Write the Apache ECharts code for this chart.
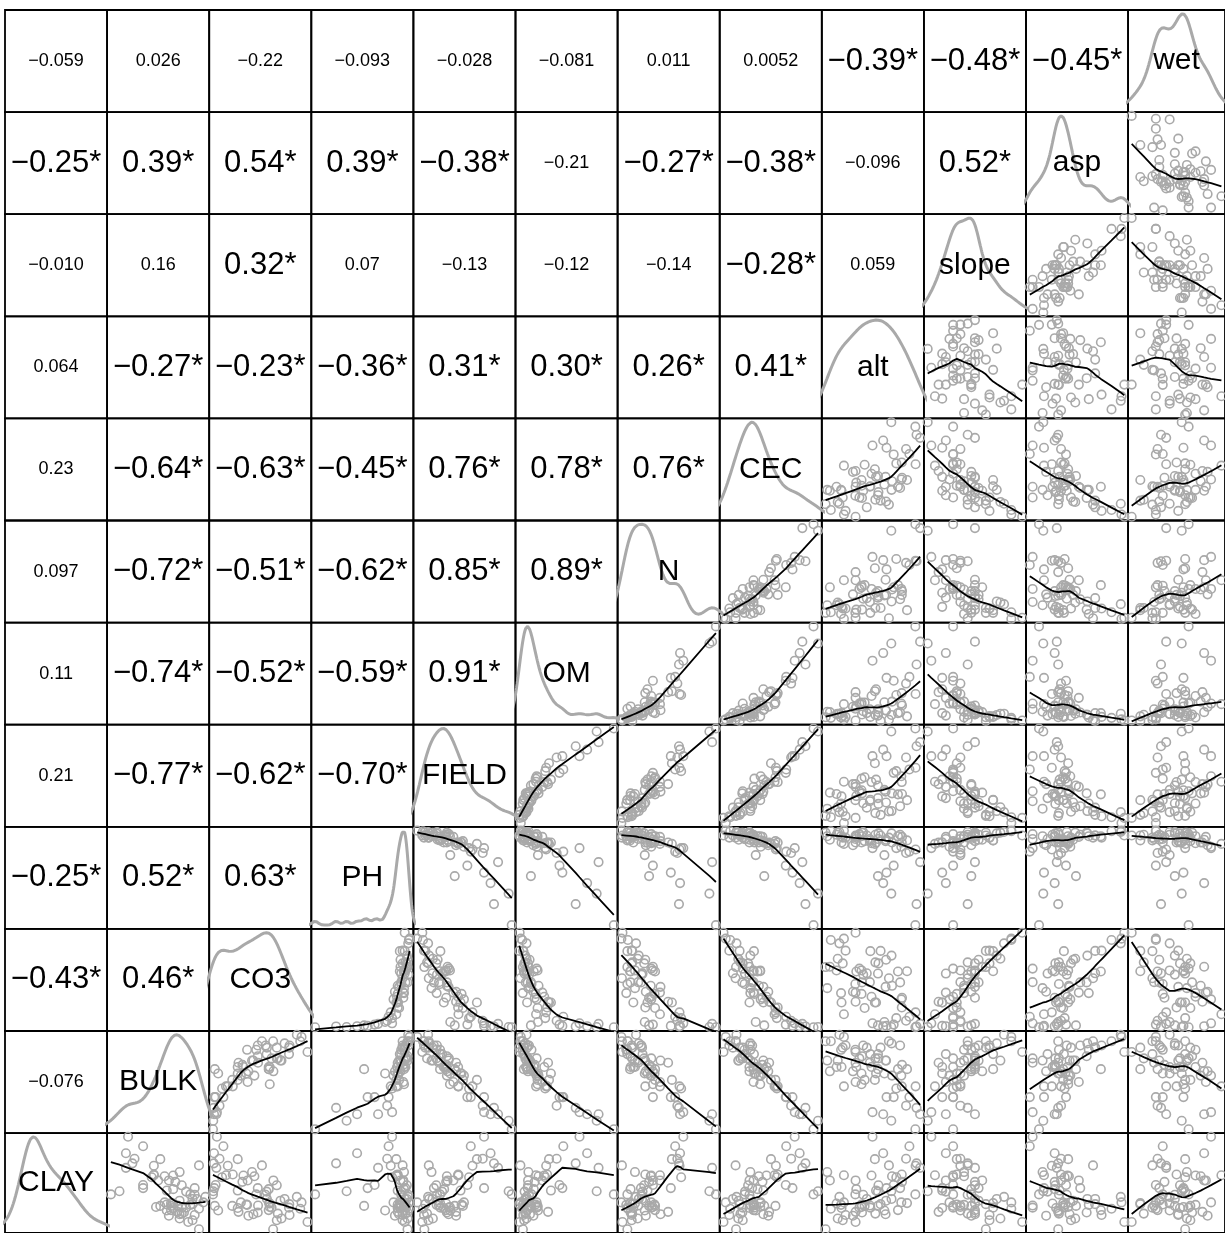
<!DOCTYPE html>
<html>
<head>
<meta charset="utf-8">
<title>Soil and terrain variables – scatterplot matrix</title>
<script src="https://cdn.jsdelivr.net/npm/echarts@6/dist/echarts.min.js"></script>
<style>
  html, body { margin: 0; padding: 0; background: #ffffff; }
  #chart { width: 1225px; height: 1233px; }
</style>
</head>
<body>
<div id="chart"></div>
<script>
// Variable names, in matrix order (columns left→right, rows bottom→top)
const varNames = ['CLAY', 'BULK', 'CO3', 'PH', 'FIELD', 'OM', 'N', 'CEC', 'alt', 'slope', 'asp', 'wet'];

// Observations (one value per sampling site)
const CLAY = [27.5, 21.0, 23.6, 35.0, 21.7, 20.8, 22.6, 31.3, 33.8, 21.3,
              33.2, 19.9, 21.1, 28.9, 24.9, 22.4, 24.2, 38.7, 19.7, 30.4,
              19.4, 21.6, 36.7, 23.1, 21.9, 17.0, 33.1, 26.4, 19.2, 41.4,
              24.9, 20.4, 14.9, 27.6, 25.7, 21.6, 32.5, 18.0, 30.3, 22.1,
              26.0, 28.9, 25.8, 26.7, 18.8, 23.6, 35.1, 21.1, 30.6, 17.5,
              20.3, 22.6, 29.8, 22.3, 30.1, 26.7, 24.8, 22.0, 28.5, 19.0];
const BULK = [1.42, 1.38, 1.49, 1.32, 1.40, 1.50, 1.34, 1.41, 1.19, 1.30,
              1.50, 1.40, 1.44, 1.31, 1.09, 1.37, 1.53, 1.24, 1.43, 1.29,
              1.42, 1.37, 1.16, 1.41, 1.46, 1.45, 1.29, 1.38, 1.41, 1.17,
              1.46, 1.37, 1.50, 1.24, 1.44, 1.32, 1.16, 1.41, 1.38, 1.47,
              1.35, 1.36, 1.13, 1.48, 1.36, 1.47, 1.20, 1.42, 1.29, 1.47,
              1.35, 1.52, 1.28, 1.38, 1.34, 1.24, 1.48, 1.35, 1.39, 1.48];
const CO3 = [25.0, 10.0, 28.0, 10.0, 17.8, 34.0, 11.2, 15.5, 0.8, 22.3,
             19.3, 10.3, 29.7, 13.8, 0.5, 22.0, 32.7, 4.5, 17.7, 5.5,
             25.4, 1.2, 0.9, 26.4, 13.6, 36.8, 6.2, 21.9, 16.0, 2.0,
             17.1, 21.9, 23.6, 1.5, 21.1, 7.9, 1.8, 26.8, 12.2, 29.8,
             10.0, 23.7, 0.6, 17.7, 14.1, 21.2, 3.0, 23.0, 8.1, 25.0,
             2.5, 34.5, 4.0, 22.3, 16.4, 1.0, 20.7, 13.3, 11.8, 29.9];
const PH = [8.16, 8.03, 8.16, 8.01, 8.08, 8.19, 7.97, 8.12, 7.15, 8.12,
            8.10, 8.03, 8.06, 8.11, 6.85, 8.06, 8.18, 7.90, 8.17, 8.01,
            8.14, 7.55, 7.45, 8.07, 8.12, 8.13, 7.93, 8.12, 8.05, 7.95,
            8.08, 8.12, 8.17, 7.70, 8.08, 8.05, 7.75, 8.17, 8.02, 8.13,
            8.03, 8.07, 7.30, 8.14, 7.99, 8.13, 7.88, 8.15, 8.03, 8.10,
            7.85, 8.20, 7.95, 8.14, 8.03, 7.60, 8.18, 8.03, 8.11, 8.10];
const FIELD = [25.5, 27.7, 23.4, 37.4, 26.3, 21.6, 33.6, 24.1, 42.4, 29.5,
               23.3, 31.3, 26.7, 30.5, 47.6, 26.6, 23.1, 35.6, 28.6, 32.0,
               22.8, 30.9, 41.4, 25.9, 25.6, 21.4, 36.1, 27.8, 29.1, 39.5,
               26.6, 28.3, 22.0, 34.6, 27.2, 33.3, 43.6, 24.5, 31.9, 22.3,
               32.6, 28.8, 46.7, 24.8, 31.3, 24.4, 39.1, 29.2, 31.9, 23.2,
               29.6, 19.9, 35.1, 28.4, 28.6, 39.5, 25.7, 32.9, 28.4, 21.9];
const OM = [1.10, 1.05, 0.95, 2.20, 1.25, 0.80, 1.55, 1.12, 3.60, 1.60,
            0.70, 2.15, 0.85, 1.85, 5.60, 0.88, 1.02, 2.95, 0.98, 1.52,
            0.96, 1.25, 4.20, 1.18, 0.82, 0.66, 2.05, 1.40, 1.20, 3.80,
            1.28, 1.05, 0.83, 2.75, 0.92, 1.60, 4.80, 1.02, 1.95, 0.64,
            2.30, 1.10, 4.70, 1.08, 1.38, 1.05, 2.60, 1.55, 2.10, 0.90,
            1.62, 0.72, 2.00, 0.99, 1.65, 2.90, 1.15, 1.50, 1.45, 0.85];
const N = [0.122, 0.102, 0.112, 0.173, 0.111, 0.092, 0.135, 0.105, 0.186, 0.138,
           0.081, 0.166, 0.091, 0.151, 0.254, 0.096, 0.107, 0.179, 0.097, 0.151,
           0.100, 0.131, 0.188, 0.124, 0.089, 0.082, 0.187, 0.097, 0.152, 0.194,
           0.091, 0.142, 0.091, 0.138, 0.119, 0.142, 0.247, 0.110, 0.135, 0.100,
           0.128, 0.138, 0.242, 0.116, 0.125, 0.118, 0.183, 0.135, 0.124, 0.099,
           0.123, 0.080, 0.190, 0.105, 0.134, 0.171, 0.117, 0.141, 0.131, 0.099];
const CEC = [15.8, 16.1, 16.3, 20.9, 17.0, 11.8, 18.6, 16.3, 28.6, 18.5,
             13.0, 20.5, 17.1, 17.0, 30.4, 18.5, 13.2, 24.3, 14.5, 21.7,
             14.1, 19.4, 27.3, 13.7, 16.3, 10.3, 22.0, 17.9, 19.2, 26.2,
             15.0, 17.0, 13.1, 24.2, 15.1, 21.9, 27.9, 13.6, 19.9, 13.9,
             19.2, 16.1, 31.4, 16.7, 20.3, 12.4, 25.4, 14.6, 22.4, 14.6,
             17.5, 10.8, 22.2, 17.0, 18.2, 25.7, 16.1, 17.2, 19.0, 11.6];
const alt = [1440, 1285, 1495, 1425, 1404, 1240, 1536, 1225, 1600, 1369,
             1484, 1344, 1406, 1344, 1595, 1560, 1276, 1570, 1371, 1295,
             1427, 1438, 1460, 1472, 1283, 1344, 1596, 1347, 1470, 1415,
             1343, 1522, 1218, 1504, 1438, 1382, 1615, 1269, 1411, 1449,
             1430, 1236, 1494, 1531, 1333, 1391, 1556, 1360, 1538, 1290,
             1465, 1295, 1515, 1264, 1497, 1474, 1376, 1369, 1539, 1302];
const slope = [17, 8, 23, 12, 13, 27, 10, 14, 15, 13,
               15, 7, 22, 9, 11, 22, 25, 11, 17, 6,
               15, 16, 9, 18, 14, 30, 13, 16, 17, 5,
               16, 17, 20, 11, 9, 11, 17, 24, 11, 20,
               8, 19, 4, 18, 16, 17, 13, 11, 12, 21,
               13, 27, 11, 17, 14, 8, 15, 12, 17, 21];
const asp = [160, 161, 205, 178, 128, 239, 181, 142, 164, 178,
             213, 164, 172, 193, 137, 171, 252, 124, 204, 144,
             165, 189, 159, 185, 207, 257, 155, 159, 180, 128,
             165, 224, 164, 175, 149, 171, 162, 188, 177, 216,
             166, 168, 143, 195, 147, 216, 168, 128, 168, 182,
             164, 253, 173, 156, 179, 144, 176, 174, 159, 225];
const wet = [8.3, 8.3, 8.0, 8.6, 6.8, 6.9, 10.1, 8.7, 7.2, 8.5,
             6.7, 9.6, 6.7, 9.8, 8.8, 6.0, 7.7, 7.3, 9.0, 10.7,
             6.2, 8.0, 9.7, 7.1, 9.2, 5.5, 7.5, 8.5, 8.2, 10.1,
             7.3, 7.0, 8.6, 6.9, 8.6, 8.9, 7.5, 8.7, 9.2, 6.0,
             8.4, 9.7, 8.4, 7.1, 9.9, 7.2, 7.0, 8.8, 8.1, 8.9,
             7.7, 6.9, 8.6, 7.7, 9.5, 8.5, 8.0, 7.3, 7.4, 8.2];

// Pearson correlations (upper panels); row k lists the pairs of varNames[k + 1]
// with each earlier variable. A trailing * marks a significant coefficient.
const corrLabels = [
  ['−0.076'],
  ['−0.43*', '0.46*'],
  ['−0.25*', '0.52*', '0.63*'],
  ['0.21', '−0.77*', '−0.62*', '−0.70*'],
  ['0.11', '−0.74*', '−0.52*', '−0.59*', '0.91*'],
  ['0.097', '−0.72*', '−0.51*', '−0.62*', '0.85*', '0.89*'],
  ['0.23', '−0.64*', '−0.63*', '−0.45*', '0.76*', '0.78*', '0.76*'],
  ['0.064', '−0.27*', '−0.23*', '−0.36*', '0.31*', '0.30*', '0.26*', '0.41*'],
  ['−0.010', '0.16', '0.32*', '0.07', '−0.13', '−0.12', '−0.14', '−0.28*', '0.059'],
  ['−0.25*', '0.39*', '0.54*', '0.39*', '−0.38*', '−0.21', '−0.27*', '−0.38*', '−0.096', '0.52*'],
  ['−0.059', '0.026', '−0.22', '−0.093', '−0.028', '−0.081', '0.011', '0.0052', '−0.39*', '−0.48*', '−0.45*']
];

const columns = [CLAY, BULK, CO3, PH, FIELD, OM, N, CEC, alt, slope, asp, wet];
const K = varNames.length;

const FONT = "'Liberation Sans', Arial, Helvetica, sans-serif";
const CELL = 102.1, LEFT0 = 5, TOP0 = 10;
const POINT_GREY = '#a9a9a9';

// Axis range with the usual 4 % extension on both sides
function padRange(arr) {
  const mn = Math.min(...arr), mx = Math.max(...arr);
  const d = (mx - mn) * 0.04;
  return [mn - d, mx + d];
}

function quantile(sorted, p) {
  const h = (sorted.length - 1) * p;
  const lo = Math.floor(h), hi = Math.ceil(h);
  return sorted[lo] + (h - lo) * (sorted[hi] - sorted[lo]);
}

// Gaussian kernel density with the nrd0 bandwidth rule
function kde(arr, m) {
  const n = arr.length;
  const mean = arr.reduce((s, v) => s + v, 0) / n;
  const sd = Math.sqrt(arr.reduce((s, v) => s + (v - mean) * (v - mean), 0) / (n - 1));
  const sorted = arr.slice().sort((a, b) => a - b);
  const iqr = quantile(sorted, 0.75) - quantile(sorted, 0.25);
  let lo = Math.min(sd, iqr / 1.34);
  if (!(lo > 0)) lo = sd || 1;
  const bw = 0.9 * lo * Math.pow(n, -0.2);
  const x0 = sorted[0] - 3 * bw, x1 = sorted[n - 1] + 3 * bw;
  const pts = [];
  const norm = 1 / (n * bw * Math.sqrt(2 * Math.PI));
  for (let k = 0; k <= m; k++) {
    const x = x0 + (x1 - x0) * k / m;
    let s = 0;
    for (let i = 0; i < n; i++) {
      const z = (x - arr[i]) / bw;
      s += Math.exp(-0.5 * z * z);
    }
    pts.push([x, s * norm]);
  }
  return pts;
}

// Robust locally weighted regression (lowess, f = 2/3, 3 robustness iterations)
function lowess(xs, ys, f = 2 / 3, iter = 3) {
  const order = xs.map((_, i) => i).sort((a, b) => xs[a] - xs[b]);
  const x = order.map(i => xs[i]);
  const y = order.map(i => ys[i]);
  const n = x.length;
  const ns = Math.max(2, Math.min(n, Math.floor(f * n + 1e-7)));
  const range = x[n - 1] - x[0];
  let rw = new Array(n).fill(1);
  const fit = new Array(n).fill(0);
  for (let it = 0; it <= iter; it++) {
    let nleft = 0, nright = ns - 1;
    for (let i = 0; i < n; i++) {
      while (nright < n - 1 && x[i] - x[nleft] > x[nright + 1] - x[i]) { nleft++; nright++; }
      const h = Math.max(x[i] - x[nleft], x[nright] - x[i]);
      const h9 = 0.999 * h, h1 = 0.001 * h;
      const w = new Array(n).fill(0);
      let a = 0;
      for (let j = 0; j < n; j++) {
        const d = Math.abs(x[j] - x[i]);
        if (d <= h9) {
          let wj = d <= h1 ? 1 : Math.pow(1 - Math.pow(d / h, 3), 3);
          wj *= rw[j];
          w[j] = wj;
          a += wj;
        }
      }
      if (a <= 0) { fit[i] = y[i]; continue; }
      for (let j = 0; j < n; j++) w[j] /= a;
      if (h > 0) {
        let c = 0;
        for (let j = 0; j < n; j++) c += w[j] * x[j];
        let cc = 0;
        for (let j = 0; j < n; j++) cc += w[j] * (x[j] - c) * (x[j] - c);
        if (Math.sqrt(cc) > 0.001 * range) {
          const b = (x[i] - c) / cc;
          for (let j = 0; j < n; j++) w[j] *= (b * (x[j] - c) + 1);
        }
      }
      let s = 0;
      for (let j = 0; j < n; j++) s += w[j] * y[j];
      fit[i] = s;
    }
    if (it === iter) break;
    const res = y.map((v, i) => Math.abs(v - fit[i]));
    const srt = res.slice().sort((p, q) => p - q);
    const mid = Math.floor(n / 2);
    const med = n % 2 ? srt[mid] : (srt[mid - 1] + srt[mid]) / 2;
    const cmad = 6 * med;
    const meanAbsY = y.reduce((s, v) => s + Math.abs(v), 0) / n;
    if (cmad < 1e-7 * meanAbsY) break;
    rw = res.map(r => r <= 0.001 * cmad ? 1 : (r > 0.999 * cmad ? 0 : Math.pow(1 - (r / cmad) * (r / cmad), 2)));
  }
  return x.map((v, i) => [v, fit[i]]);
}

function textLabel(txt, size) {
  return {
    show: true, position: 'inside', formatter: txt, fontSize: size, fontFamily: FONT,
    color: '#000000', textBorderWidth: 0, textBorderColor: 'transparent', opacity: 1
  };
}

const grids = [], xAxes = [], yAxes = [], series = [];
const ranges = columns.map(padRange);

for (let r = 0; r < K; r++) {
  for (let c = 0; c < K; c++) {
    const gi = grids.length;
    grids.push({
      left: LEFT0 + c * CELL, top: TOP0 + r * CELL, width: CELL, height: CELL,
      show: true, borderColor: '#000000', borderWidth: 1.8, backgroundColor: 'rgba(0,0,0,0)'
    });
    const rowVar = K - 1 - r;
    if (c === rowVar) {
      // diagonal: kernel density and variable name
      const dens = kde(columns[c], 256);
      const dmax = Math.max(...dens.map(p => p[1]));
      xAxes.push({ gridIndex: gi, type: 'value', show: false, min: ranges[c][0], max: ranges[c][1] });
      yAxes.push({ gridIndex: gi, type: 'value', show: false, min: -0.04 * dmax, max: 1.04 * dmax });
      series.push({
        type: 'line', xAxisIndex: gi, yAxisIndex: gi, data: dens, showSymbol: false, silent: true,
        clip: true, lineStyle: { color: POINT_GREY, width: 3 }, z: 2
      });
      series.push({
        type: 'scatter', xAxisIndex: gi, yAxisIndex: gi,
        data: [[(ranges[c][0] + ranges[c][1]) / 2, 0.5 * dmax]],
        symbolSize: 1, itemStyle: { color: 'rgba(0,0,0,0)' }, silent: true, z: 5,
        label: textLabel(varNames[c], 30)
      });
    } else if (c < rowVar) {
      // upper panels: correlation coefficient text
      const txt = corrLabels[rowVar - 1][c];
      const sig = txt.endsWith('*');
      xAxes.push({ gridIndex: gi, type: 'value', show: false, min: 0, max: 1 });
      yAxes.push({ gridIndex: gi, type: 'value', show: false, min: 0, max: 1 });
      series.push({
        type: 'scatter', xAxisIndex: gi, yAxisIndex: gi, data: [[0.5, 0.5]],
        symbolSize: 1, itemStyle: { color: 'rgba(0,0,0,0)' }, silent: true, z: 5,
        label: textLabel(txt, sig ? 31 : 18)
      });
    } else {
      // lower panels: scatter with lowess smoother
      const xs = columns[c], ys = columns[rowVar];
      xAxes.push({ gridIndex: gi, type: 'value', show: false, min: ranges[c][0], max: ranges[c][1] });
      yAxes.push({ gridIndex: gi, type: 'value', show: false, min: ranges[rowVar][0], max: ranges[rowVar][1] });
      series.push({
        type: 'scatter', xAxisIndex: gi, yAxisIndex: gi, data: xs.map((v, i) => [v, ys[i]]),
        symbol: 'circle', symbolSize: 8.5, silent: true, z: 2,
        itemStyle: { color: 'rgba(0,0,0,0)', borderColor: POINT_GREY, borderWidth: 1.6, opacity: 1 }
      });
      series.push({
        type: 'line', xAxisIndex: gi, yAxisIndex: gi, data: lowess(xs, ys), showSymbol: false, silent: true,
        clip: true, lineStyle: { color: '#000000', width: 1.8 }, z: 3
      });
    }
  }
}

const chart = echarts.init(document.getElementById('chart'), null, { renderer: 'canvas' });
chart.setOption({
  backgroundColor: '#ffffff',
  animation: false,
  grid: grids,
  xAxis: xAxes,
  yAxis: yAxes,
  series: series
});
</script>
</body>
</html>
